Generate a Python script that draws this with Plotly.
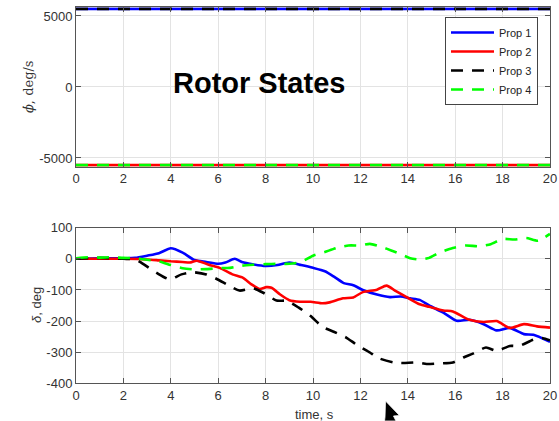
import plotly.graph_objects as go

W, H = 559, 421

# ---------------- data ----------------
legend_names = ["Prop 1", "Prop 2", "Prop 3", "Prop 4"]

# top plot: rotor speeds (deg/s)
time_top = [0, 20]
rate_prop1 = [5500, 5500]
rate_prop2 = [-5500, -5500]
rate_prop3 = [5500, 5500]
rate_prop4 = [-5500, -5500]

# bottom plot: rotor angle delta (deg)
t_prop1 = [0, 1, 2, 2.5, 3, 3.5, 4, 4.5, 5, 5.5, 6, 6.3, 6.7, 7, 7.5, 8, 8.5, 9, 9.5,
           10, 10.5, 10.9, 11.3, 11.7, 12.1, 12.7, 13.25, 13.7, 14.1, 14.5, 14.9, 15.5,
           16.06, 16.6, 17.2, 17.75, 18.3, 18.9, 19.3, 20]
d_prop1 = [0, 2, 2, 3, 10, 18, 34, 20, -4, -10, -16, -12, 0, -10, -18, -23, -20, -12, -20,
           -29, -40, -58, -78, -85, -100, -115, -123, -121, -127, -132, -150, -173,
           -199, -196, -210, -230, -222, -242, -244, -267]

t_prop2 = [0, 1, 2, 3, 3.5, 4, 4.5, 4.8, 5.1, 5.6, 6.06, 6.6, 7.05, 7.4, 7.75, 8.03, 8.25,
           8.6, 9.0, 9.45, 9.9, 10.4, 10.7, 11.27, 11.7, 12.1, 12.7, 13.1, 13.5, 13.95,
           14.5, 14.9, 15.5, 15.9, 16.6, 17.2, 17.75, 18.3, 18.9, 19.45, 20]
d_prop2 = [0, 0, 0, -2, -5, -8, -10, -12, -6, -19, -29, -50, -61, -82, -97, -91, -93,
           -114, -133, -138, -138, -143, -140, -127, -124, -107, -99, -86, -104, -123,
           -146, -154, -166, -169, -196, -203, -200, -222, -210, -217, -221]

t_prop3 = [0, 1, 1.5, 2, 2.5, 2.7, 3.4, 3.95, 4.45, 4.93, 5.5, 5.92, 6.5, 6.9, 7.47, 7.9,
           8.46, 8.9, 9.4, 9.9, 10.4, 10.9, 11.4, 11.84, 12.4, 12.8, 13.4, 13.8, 14.37,
           14.8, 15.35, 15.9, 16.35, 16.77, 17.3, 17.75, 18.3, 18.7, 19.3, 19.7, 20]
d_prop3 = [0, 3, 2, 0, -2, -10, -45, -66, -50, -43, -50, -64, -88, -102, -95, -109,
           -134, -135, -157, -184, -219, -235, -253, -276, -301, -320, -333, -335, -333,
           -338, -336, -333, -317, -304, -285, -296, -280, -280, -260, -255, -262]

t_prop4 = [0, 0.5, 1, 1.5, 2, 2.5, 3, 3.5, 4, 4.5, 5, 5.5, 6, 6.5, 7, 7.5, 8, 8.5, 9, 9.5,
           10, 10.5, 11, 11.5, 12, 12.4, 12.9, 13.3, 13.7, 14.1, 14.5, 14.9, 15.3, 15.9,
           16.45, 17, 17.5, 18, 18.5, 19, 19.5, 20]
d_prop4 = [2, 5, 4, 5, 3, 2, -3, -8, -20, -30, -34, -33, -30, -29, -22, -19, -17, -16,
           -16, -10, 10, 22, 35, 43, 43, 48, 38, 27, 15, 2, -2, 3, 19, 35, 43, 40, 47,
           64, 62, 67, 58, 80]

x_ticks = [0, 2, 4, 6, 8, 10, 12, 14, 16, 18, 20]
x_tick_labels = ["0", "2", "4", "6", "8", "10", "12", "14", "16", "18", "20"]
top_y_ticks = [-5000, 0, 5000]
top_y_tick_labels = ["-5000", "0", "5000"]
bottom_y_ticks = [-400, -300, -200, -100, 0, 100]
bottom_y_tick_labels = ["-400", "-300", "-200", "-100", "0", "100"]

# ---------------- styles ----------------
colors = ["#0000ff", "#ff0000", "#000000", "#00ff00"]
dashes = ["solid", "solid", "12px,9px", "12px,9px"]
LW = 2.6
AX = "#555555"
GRID = "#e3e3e3"
TXT = "#333333"
FONT = "Arial, Liberation Sans, sans-serif"


def px_x(p):
    return p / W


def px_y(p):
    return 1 - p / H


fig = go.Figure()

top_series = [rate_prop1, rate_prop2, rate_prop3, rate_prop4]
bot_t = [t_prop1, t_prop2, t_prop3, t_prop4]
bot_d = [d_prop1, d_prop2, d_prop3, d_prop4]

for i in range(4):
    fig.add_trace(go.Scatter(
        x=time_top, y=top_series[i], mode="lines", name=legend_names[i],
        line=dict(color=colors[i], width=LW, dash=dashes[i]),
        xaxis="x", yaxis="y", showlegend=True, hoverinfo="skip"))

for i in range(4):
    fig.add_trace(go.Scatter(
        x=bot_t[i], y=bot_d[i], mode="lines", name=legend_names[i],
        line=dict(color=colors[i], width=LW, dash=dashes[i], shape="spline", smoothing=0.6),
        xaxis="x2", yaxis="y2", showlegend=False, hoverinfo="skip"))

axis_common = dict(
    showline=True, linecolor=AX, linewidth=1, mirror="ticks",
    ticks="inside", ticklen=5, tickcolor=AX,
    showgrid=True, gridcolor=GRID, gridwidth=1, zeroline=False,
    tickfont=dict(family=FONT, size=13, color=TXT), automargin=False,
)

x_dom = [px_x(76), px_x(550)]
# top: 0 at 87px, 14.2 px per 1000
top_half = 5620
top_dom = [px_y(87 + top_half * 0.0142), px_y(87 - top_half * 0.0142)]
bot_dom = [px_y(383.3), px_y(227.7)]

fig.update_layout(
    width=W, height=H,
    margin=dict(l=0, r=0, t=0, b=0),
    paper_bgcolor="white", plot_bgcolor="white",
    font=dict(family=FONT, color=TXT),
    hovermode=False,
    xaxis=dict(domain=x_dom, anchor="y", range=[0, 20], tickvals=x_ticks,
               ticktext=x_tick_labels, **axis_common),
    yaxis=dict(domain=top_dom, anchor="x", range=[-top_half, top_half],
               tickvals=top_y_ticks, ticktext=top_y_tick_labels, **axis_common),
    xaxis2=dict(domain=x_dom, anchor="y2", range=[0, 20], tickvals=x_ticks,
                ticktext=x_tick_labels, **axis_common),
    yaxis2=dict(domain=bot_dom, anchor="x2", range=[-400, 100],
                tickvals=bottom_y_ticks, ticktext=bottom_y_tick_labels, **axis_common),
    legend=dict(
        x=px_x(538), y=px_y(17), xanchor="right", yanchor="top",
        bgcolor="white", bordercolor="#444444", borderwidth=1,
        font=dict(family=FONT, size=11, color="#222222"),
        tracegroupgap=0, itemwidth=43,
    ),
    showlegend=True,
)

# text annotations
fig.add_annotation(x=4, y=0, xref="x", yref="y", text="<b>Rotor States</b>",
                   showarrow=False, xanchor="left", yanchor="middle", yshift=4,
                   font=dict(family=FONT, size=29, color="#000000"))
fig.add_annotation(x=px_x(28), y=px_y(87), xref="paper", yref="paper",
                   xanchor="center", yanchor="middle",
                   text="<i>ϕ̇</i>, deg/s", textangle=-90, showarrow=False,
                   font=dict(family="DejaVu Serif, serif", size=13, color=TXT))
fig.add_annotation(x=px_x(36), y=px_y(305), xref="paper", yref="paper",
                   xanchor="center", yanchor="middle",
                   text="<i>δ</i>, deg", textangle=-90, showarrow=False,
                   font=dict(family=FONT, size=13, color=TXT))
fig.add_annotation(x=px_x(314), y=px_y(414), xref="paper", yref="paper",
                   xanchor="center", yanchor="middle",
                   text="time, s", showarrow=False,
                   font=dict(family=FONT, size=13, color=TXT))

# mouse cursor seen in the screenshot
cur = [(386, 401.5), (399.5, 415.5), (393.5, 416), (396, 421), (384.5, 421),
       (385, 417), (385.5, 401.5)]
path = "M " + " L ".join(f"{px_x(a):.5f},{px_y(b):.5f}" for a, b in cur) + " Z"
fig.add_shape(type="path", path=path, xref="paper", yref="paper",
              fillcolor="black", line=dict(color="white", width=0.8))

fig.write_html("out.html", config={"displayModeBar": False, "staticPlot": True},
               post_script="document.body.style.margin='0';document.body.style.padding='0';"
                           "window.dispatchEvent(new Event('resize'));")
